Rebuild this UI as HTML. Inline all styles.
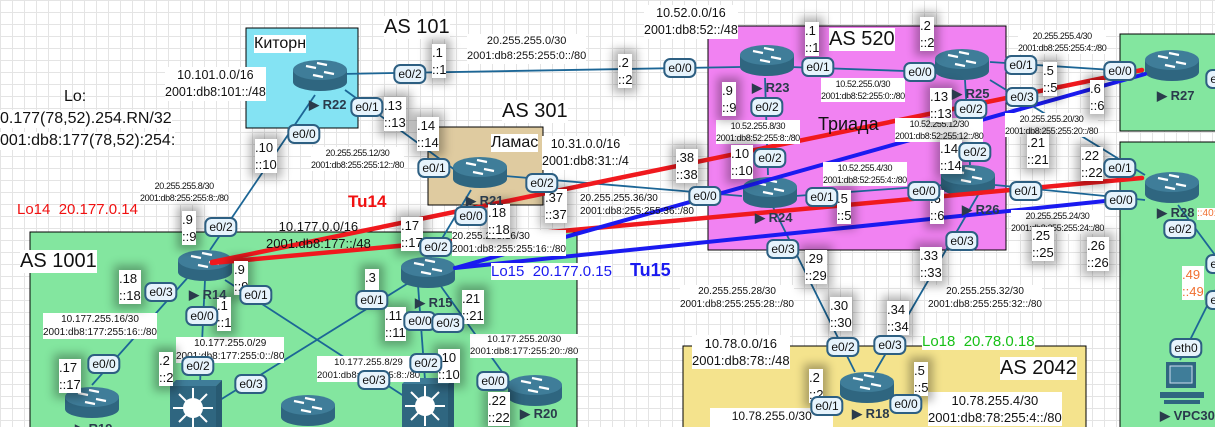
<!DOCTYPE html>
<html><head><meta charset="utf-8">
<style>
body{margin:0;}
#w{position:relative;width:1215px;height:427px;overflow:hidden;font-family:"Liberation Sans",sans-serif;
background-color:#fff;
background-image:linear-gradient(#e4e4e4 1px,transparent 1px),linear-gradient(90deg,#e4e4e4 1px,transparent 1px);
background-size:12px 12px;}
svg{position:absolute;left:0;top:0;}
.t{position:absolute;background:#fff;white-space:nowrap;line-height:1.15;color:#111;}
.ip{position:absolute;background:#fff;white-space:nowrap;line-height:17px;font-size:13px;color:#111;box-shadow:0 0 9px 5px rgba(0,0,0,.3);}
.n{font-size:9px;line-height:12px;letter-spacing:-0.4px;text-align:center;}
.m{font-size:12.5px;line-height:17px;text-align:center;}
.p{position:absolute;height:16px;line-height:16px;padding:0 3px;font-size:12px;background:#e6f3fc;border:2px solid #2d5f82;border-radius:7px;color:#111;transform:translate(-50%,-50%);}
.rl{position:absolute;font-size:13px;font-weight:bold;color:#2a3b4c;white-space:nowrap;}
.as{font-size:20px;}
</style></head><body><div id="w">
<svg width="1215" height="427" viewBox="0 0 1215 427">
<defs>
<g id="rt">
<path d="M-27,-5 v12 a27,9 0 0 0 54,0 v-12 z" fill="#2f6680"/>
<ellipse cx="0" cy="-5" rx="27" ry="10" fill="#3f7d99"/>
<g stroke="#fff" stroke-width="2.2" fill="#fff">
<line x1="-14" y1="-9" x2="-4" y2="-7"/><line x1="14" y1="-1" x2="4" y2="-3"/>
<line x1="-3" y1="-12" x2="7" y2="-10"/><line x1="3" y1="2" x2="-7" y2="0"/>
</g>
</g>
<g id="sw">
<rect x="0" y="6" width="46" height="60" fill="#2f6680"/>
<path d="M0,6 l6,-6 h46 l-6,6z" fill="#3f7d99"/><path d="M46,6 l6,-6 v60 l-6,6z" fill="#285a72"/>
<circle cx="23" cy="28" r="10" fill="#fff"/>
<g stroke="#fff" stroke-width="2"><line x1="23" y1="8" x2="23" y2="48"/><line x1="3" y1="28" x2="43" y2="28"/><line x1="9" y1="14" x2="37" y2="42"/><line x1="37" y1="14" x2="9" y2="42"/></g>
</g>
</defs>
<rect x="246" y="28" width="112" height="100" fill="#84e3f3" stroke="#000"/>
<rect x="428" y="127" width="115" height="78" fill="#dfcba0" stroke="#000"/>
<rect x="30" y="232" width="547" height="200" fill="#83e69f" stroke="#000"/>
<rect x="708" y="26" width="298" height="224" fill="#f182f2" stroke="#000"/>
<rect x="683" y="346" width="403" height="90" fill="#f4e38d" stroke="#000"/>
<rect x="1120" y="34" width="100" height="97" fill="#83e69f" stroke="#000"/>
<rect x="1120" y="142" width="100" height="290" fill="#83e69f" stroke="#000"/>
<g stroke="#1c6696" stroke-width="1.8" fill="none">
<line x1="340" y1="74" x2="740" y2="67"/>
<line x1="315" y1="95" x2="210" y2="250"/>
<line x1="345" y1="90" x2="455" y2="170"/>
<line x1="505" y1="176" x2="742" y2="196"/>
<line x1="471" y1="190" x2="428" y2="262"/>
<line x1="205" y1="280" x2="200" y2="384"/>
<line x1="225" y1="280" x2="410" y2="400"/>
<line x1="190" y1="275" x2="92" y2="385"/>
<line x1="410" y1="282" x2="220" y2="400"/>
<line x1="418" y1="285" x2="425" y2="380"/>
<line x1="440" y1="285" x2="515" y2="390"/>
<line x1="790" y1="67" x2="935" y2="72"/>
<line x1="765" y1="78" x2="768" y2="175"/>
<line x1="795" y1="196" x2="945" y2="185"/>
<line x1="965" y1="80" x2="970" y2="165"/>
<line x1="990" y1="62" x2="1143" y2="72"/>
<line x1="990" y1="80" x2="1145" y2="175"/>
<line x1="995" y1="185" x2="1145" y2="200"/>
<line x1="772" y1="205" x2="855" y2="372"/>
<line x1="978" y1="195" x2="875" y2="372"/>
<line x1="1178" y1="205" x2="1215" y2="255"/>
<line x1="1215" y1="290" x2="1180" y2="360"/>
</g>
<use href="#rt" x="320" y="75"/>
<use href="#rt" x="480" y="172"/>
<use href="#rt" x="205" y="265"/>
<use href="#rt" x="428" y="272"/>
<use href="#rt" x="92" y="402"/>
<use href="#rt" x="308" y="410"/>
<use href="#rt" x="535" y="390"/>
<use href="#rt" x="767" y="60"/>
<use href="#rt" x="962" y="64"/>
<use href="#rt" x="770" y="192"/>
<use href="#rt" x="968" y="180"/>
<use href="#rt" x="1172" y="65"/>
<use href="#rt" x="1172" y="187"/>
<use href="#rt" x="867" y="387"/>
<use href="#sw" x="170" y="380"/>
<use href="#sw" x="402" y="378"/>
<g transform="translate(1160,362)">
<rect x="6" y="0" width="30" height="26" fill="#2f6680"/><rect x="10" y="4" width="22" height="17" fill="#3f7d99" stroke="#cde" stroke-width="1"/>
<path d="M0,30 h44 v6 h-44z" fill="#2f6680"/><path d="M4,38 h36 v4 h-36z" fill="#2f6680"/>
</g>
<g stroke-linecap="round">
<line x1="212" y1="262" x2="1142" y2="70" stroke="#f0191e" stroke-width="4.5"/>
<line x1="212" y1="263" x2="1142" y2="178" stroke="#f0191e" stroke-width="4.5"/>
<line x1="455" y1="268" x2="1145" y2="74" stroke="#1a1af0" stroke-width="4"/>
<line x1="455" y1="268" x2="1115" y2="200" stroke="#1a1af0" stroke-width="4"/>
</g>
</svg>

<div class="t" style="left:254px;top:35px;font-size:16px;">Киторн</div>
<div class="t as" style="left:384px;top:16px;">AS 101</div>
<div class="t as" style="left:502px;top:100px;">AS 301</div>
<div class="t" style="left:491px;top:134px;font-size:16px;">Ламас</div>
<div class="t as" style="left:20px;top:250px;">AS 1001</div>
<div class="t as" style="left:829px;top:28px;">AS 520</div>
<div class="t" style="left:818px;top:114px;font-size:18px;background:transparent;">Триада</div>
<div class="t as" style="left:1000px;top:357px;">AS 2042</div>

<div class="t" style="left:64px;top:88px;font-size:16px;background:transparent;">Lo:</div>
<div class="t" style="left:0;top:110px;font-size:16px;">0.177(78,52).254.RN/32</div>
<div class="t" style="left:0;top:132px;font-size:16px;">001:db8:177(78,52):254:</div>

<div class="t m" style="left:165px;top:67px;">10.101.0.0/16<br>2001:db8:101::/48</div>
<div class="t" style="left:467px;top:34px;font-size:11px;line-height:15px;text-align:center;">20.255.255.0/30<br>2001:db8:255:255:0::/80</div>
<div class="t m" style="left:644px;top:5px;">10.52.0.0/16<br>2001:db8:52::/48</div>
<div class="t m" style="left:542px;top:136px;">10.31.0.0/16<br>2001:db8:31::/4</div>
<div class="t n" style="left:311px;top:147px;">20.255.255.12/30<br>2001:db8:255:255:12::/80</div>
<div class="t n" style="left:140px;top:180px;">20.255.255.8/30<br>2001:db8:255:255:8::/80</div>
<div class="t m" style="left:266px;top:218px;font-size:13px;background:transparent;">10.177.0.0/16<br>2001:db8:177::/48</div>
<div class="t" style="left:580px;top:192px;font-size:10px;line-height:13px;background:transparent;">20.255.255.36/30<br>2001:db8:255:255:36::/80</div>
<div class="t" style="left:452px;top:230px;font-size:10px;line-height:13px;">20.255.255.16/30<br>2001:db8:255:255:16::/80</div>
<div class="t" style="left:43px;top:313px;font-size:10px;line-height:13px;text-align:center;">10.177.255.16/30<br>2001:db8:177:255:16::/80</div>
<div class="t" style="left:176px;top:337px;font-size:10px;line-height:13px;text-align:center;">10.177.255.0/29<br>2001:db8:177:255:0::/80</div>
<div class="t" style="left:317px;top:356px;font-size:9.5px;line-height:13px;text-align:center;">10.177.255.8/29<br>2001:db8:177:255:8::/80</div>
<div class="t" style="left:470px;top:334px;font-size:9.5px;line-height:12px;text-align:center;">10.177.255.20/30<br>2001:db8:177:255:20::/80</div>
<div class="t n" style="left:821px;top:78px;">10.52.255.0/30<br>2001:db8:52:255:0::/80</div>
<div class="t n" style="left:716px;top:120px;">10.52.255.8/30<br>2001:db8:52:255:8::/80</div>
<div class="t n" style="left:895px;top:118px;">10.52.255.12/30<br>2001:db8:52:255:12::/80</div>
<div class="t n" style="left:823px;top:162px;">10.52.255.4/30<br>2001:db8:52:255:4::/80</div>
<div class="t n" style="left:1018px;top:30px;">20.255.255.4/30<br>2001:db8:255:255:4::/80</div>
<div class="t n" style="left:1005px;top:113px;">20.255.255.20/30<br>2001:db8:255:255:20::/80</div>
<div class="t n" style="left:1011px;top:210px;">20.255.255.24/30<br>2001:db8:255:255:24::/80</div>
<div class="t" style="left:680px;top:285px;font-size:10px;line-height:13px;text-align:center;">20.255.255.28/30<br>2001:db8:255:255:28::/80</div>
<div class="t" style="left:928px;top:285px;font-size:10px;line-height:13px;text-align:center;">20.255.255.32/30<br>2001:db8:255:255:32::/80</div>
<div class="t m" style="left:692px;top:335px;font-size:13px;">10.78.0.0/16<br>2001:db8:78::/48</div>
<div class="t m" style="left:928px;top:392px;font-size:13px;">10.78.255.4/30<br>2001:db8:78:255:4::/80</div>
<div class="t m" style="left:710px;top:408px;font-size:12px;">10.78.255.0/30<br>2001:db8:78:255:0::/80</div>

<div class="t" style="left:17px;top:201px;font-size:15px;color:#f01010;background:transparent;">Lo14&nbsp; 20.177.0.14</div>
<div class="t" style="left:348px;top:192px;font-size:17px;font-weight:bold;color:#f01010;background:transparent;">Tu14</div>
<div class="t" style="left:491px;top:263px;font-size:15px;color:#1a1af0;">Lo15&nbsp; 20.177.0.15</div>
<div class="t" style="left:630px;top:260px;font-size:18px;font-weight:bold;color:#1a1af0;background:transparent;">Tu15</div>
<div class="t" style="left:922px;top:333px;font-size:15px;color:#18c018;">Lo18&nbsp; 20.78.0.18</div>

<div class="ip" style="left:432px;top:44px;">.1<br>::1</div>
<div class="ip" style="left:618px;top:54px;">.2<br>::2</div>
<div class="ip" style="left:384px;top:97px;">.13<br>::13</div>
<div class="ip" style="left:417px;top:117px;">.14<br>::14</div>
<div class="ip" style="left:255px;top:139px;">.10<br>::10</div>
<div class="ip" style="left:182px;top:211px;">.9<br>::9</div>
<div class="ip" style="left:401px;top:217px;">.17<br>::17</div>
<div class="ip" style="left:488px;top:204px;">.18<br>::18</div>
<div class="ip" style="left:545px;top:189px;">.37<br>::37</div>
<div class="ip" style="left:119px;top:270px;">.18<br>::18</div>
<div class="ip" style="left:234px;top:261px;">.9<br>::9</div>
<div class="ip" style="left:217px;top:297px;">.1<br>::1</div>
<div class="ip" style="left:159px;top:352px;">.2<br>::2</div>
<div class="ip" style="left:59px;top:359px;">.17<br>::17</div>
<div class="ip" style="left:365px;top:269px;">.3<br>::3</div>
<div class="ip" style="left:385px;top:307px;">.11<br>::11</div>
<div class="ip" style="left:462px;top:290px;">.21<br>::21</div>
<div class="ip" style="left:438px;top:349px;">.10<br>::10</div>
<div class="ip" style="left:488px;top:392px;">.22<br>::22</div>
<div class="ip" style="left:805px;top:22px;">.1<br>::1</div>
<div class="ip" style="left:920px;top:17px;">.2<br>::2</div>
<div class="ip" style="left:722px;top:82px;">.9<br>::9</div>
<div class="ip" style="left:731px;top:145px;">.10<br>::10</div>
<div class="ip" style="left:676px;top:149px;">.38<br>::38</div>
<div class="ip" style="left:930px;top:88px;">.13<br>::13</div>
<div class="ip" style="left:940px;top:140px;">.14<br>::14</div>
<div class="ip" style="left:837px;top:190px;">.5<br>::5</div>
<div class="ip" style="left:930px;top:190px;">.6<br>::6</div>
<div class="ip" style="left:1043px;top:62px;">.5<br>::5</div>
<div class="ip" style="left:1090px;top:80px;">.6<br>::6</div>
<div class="ip" style="left:1027px;top:134px;">.21<br>::21</div>
<div class="ip" style="left:1081px;top:147px;">.22<br>::22</div>
<div class="ip" style="left:1032px;top:227px;">.25<br>::25</div>
<div class="ip" style="left:1087px;top:237px;">.26<br>::26</div>
<div class="ip" style="left:805px;top:250px;">.29<br>::29</div>
<div class="ip" style="left:920px;top:247px;">.33<br>::33</div>
<div class="ip" style="left:830px;top:297px;">.30<br>::30</div>
<div class="ip" style="left:887px;top:301px;">.34<br>::34</div>
<div class="ip" style="left:809px;top:369px;">.2<br>::2</div>
<div class="ip" style="left:914px;top:362px;">.5<br>::5</div>
<div class="t" style="left:1182px;top:266px;font-size:13px;line-height:17px;color:#f07030;">.49<br>::49</div>
<div class="t" style="left:1197px;top:208px;font-size:10px;color:#f07030;">::40:</div>

<div class="rl" style="left:309px;top:97px;">▶ R22</div>
<div class="rl" style="left:466px;top:193px;">▶ R21</div>
<div class="rl" style="left:189px;top:287px;">▶ R14</div>
<div class="rl" style="left:415px;top:295px;">▶ R15</div>
<div class="rl" style="left:520px;top:406px;">▶ R20</div>
<div class="rl" style="left:75px;top:421px;">▶ R19</div>
<div class="rl" style="left:752px;top:80px;">▶ R23</div>
<div class="rl" style="left:952px;top:86px;">▶ R25</div>
<div class="rl" style="left:755px;top:210px;">▶ R24</div>
<div class="rl" style="left:962px;top:202px;">▶ R26</div>
<div class="rl" style="left:1157px;top:88px;">▶ R27</div>
<div class="rl" style="left:1157px;top:205px;">▶ R28</div>
<div class="rl" style="left:852px;top:406px;">▶ R18</div>
<div class="rl" style="left:1160px;top:408px;">▶ VPC30</div>

<div class="p" style="left:410px;top:74px;">e0/2</div>
<div class="p" style="left:367px;top:107px;">e0/1</div>
<div class="p" style="left:304px;top:134px;">e0/0</div>
<div class="p" style="left:434px;top:168px;">e0/1</div>
<div class="p" style="left:542px;top:183px;">e0/2</div>
<div class="p" style="left:471px;top:216px;">e0/0</div>
<div class="p" style="left:221px;top:227px;">e0/2</div>
<div class="p" style="left:161px;top:292px;">e0/3</div>
<div class="p" style="left:256px;top:295px;">e0/1</div>
<div class="p" style="left:202px;top:316px;">e0/0</div>
<div class="p" style="left:436px;top:247px;">e0/2</div>
<div class="p" style="left:372px;top:300px;">e0/1</div>
<div class="p" style="left:420px;top:321px;">e0/0</div>
<div class="p" style="left:448px;top:323px;">e0/3</div>
<div class="p" style="left:104px;top:364px;">e0/0</div>
<div class="p" style="left:198px;top:366px;">e0/2</div>
<div class="p" style="left:251px;top:384px;">e0/3</div>
<div class="p" style="left:374px;top:380px;">e0/3</div>
<div class="p" style="left:426px;top:363px;">e0/2</div>
<div class="p" style="left:493px;top:381px;">e0/0</div>
<div class="p" style="left:680px;top:68px;">e0/0</div>
<div class="p" style="left:818px;top:67px;">e0/1</div>
<div class="p" style="left:920px;top:72px;">e0/0</div>
<div class="p" style="left:1021px;top:65px;">e0/1</div>
<div class="p" style="left:1022px;top:97px;">e0/3</div>
<div class="p" style="left:971px;top:109px;">e0/2</div>
<div class="p" style="left:767px;top:107px;">e0/2</div>
<div class="p" style="left:770px;top:158px;">e0/2</div>
<div class="p" style="left:705px;top:196px;">e0/0</div>
<div class="p" style="left:822px;top:197px;">e0/1</div>
<div class="p" style="left:924px;top:191px;">e0/0</div>
<div class="p" style="left:975px;top:152px;">e0/2</div>
<div class="p" style="left:1026px;top:191px;">e0/1</div>
<div class="p" style="left:783px;top:249px;">e0/3</div>
<div class="p" style="left:962px;top:241px;">e0/3</div>
<div class="p" style="left:843px;top:347px;">e0/2</div>
<div class="p" style="left:890px;top:345px;">e0/3</div>
<div class="p" style="left:827px;top:406px;">e0/1</div>
<div class="p" style="left:906px;top:404px;">e0/0</div>
<div class="p" style="left:1120px;top:71px;">e0/0</div>
<div class="p" style="left:1120px;top:168px;">e0/1</div>
<div class="p" style="left:1121px;top:200px;">e0/0</div>
<div class="p" style="left:1180px;top:229px;">e0/2</div>
<div class="p" style="left:1186px;top:348px;">eth0</div>
<div class="p" style="left:1222px;top:79px;">e0/1</div>
<div class="p" style="left:1222px;top:264px;">e0/1</div>
<div class="p" style="left:1222px;top:300px;">e0/0</div>
</div></body></html>
